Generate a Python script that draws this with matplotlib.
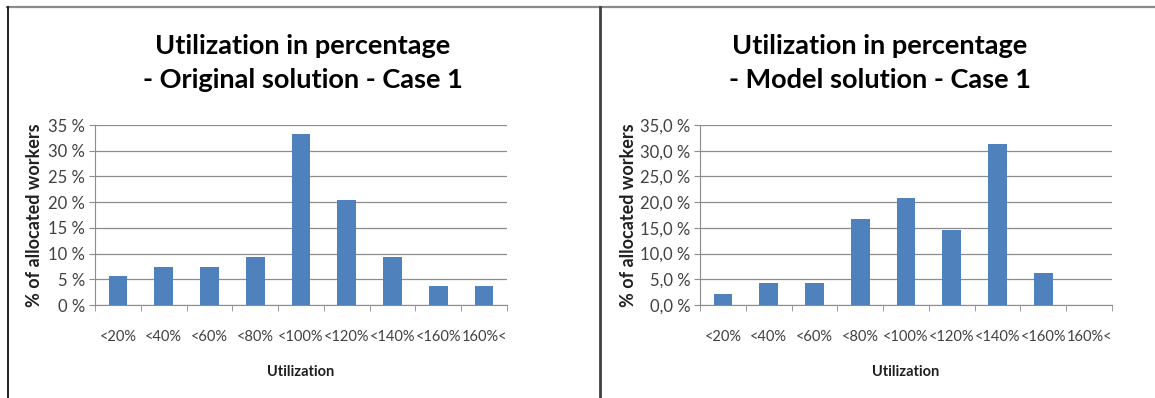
import matplotlib.pyplot as plt
from matplotlib.lines import Line2D
from matplotlib.ticker import FuncFormatter, FixedLocator

# categories and values (% of allocated workers)
categories = ['<20%', '<40%', '<60%', '<80%', '<100%', '<120%', '<140%', '<160%', '160%<']
original = [5.6, 7.4, 7.4, 9.3, 33.3, 20.4, 9.3, 3.7, 3.7]
model = [2.1, 4.2, 4.2, 16.7, 20.8, 14.6, 31.3, 6.3, 0.0]
y_ticks = [0, 5, 10, 15, 20, 25, 30, 35]

plt.rcParams['font.family'] = ['Lato', 'DejaVu Sans']

W, H = 1155, 398
fig = plt.figure(figsize=(W / 100, H / 100), dpi=100)
fig.patch.set_facecolor('white')

bar_color = '#4F81BD'
grid_color = '#8C8C8C'
text_gray = '#404040'


def draw_panel(ax, values, fmt, title, title_x, ylab_x):
    x = range(len(categories))
    ax.bar(x, values, width=0.41, color=bar_color, zorder=3)
    ax.set_xlim(-0.5, len(categories) - 0.5)
    ax.set_ylim(0, 35)
    ax.yaxis.set_major_locator(FixedLocator(y_ticks))
    ax.yaxis.set_major_formatter(FuncFormatter(fmt))
    ax.grid(axis='y', color=grid_color, linewidth=0.9, zorder=0)
    ax.set_xticks(list(x))
    ax.set_xticklabels(categories, fontsize=10.5, color=text_gray)
    ax.set_xticks([i - 0.5 for i in range(len(categories) + 1)], minor=True)
    ax.tick_params(axis='x', which='major', length=0, pad=18)
    ax.tick_params(axis='x', which='minor', length=4, color=grid_color)
    ax.tick_params(axis='y', length=4, color=grid_color, labelsize=12,
                   labelcolor=text_gray, pad=3)
    for s in ['top', 'right']:
        ax.spines[s].set_visible(False)
    ax.spines['left'].set_color(grid_color)
    ax.spines['bottom'].set_color(grid_color)
    ax.set_xlabel('Utilization', fontsize=10.5, fontweight='bold', labelpad=15,
                  color='#202020')
    ax.set_ylabel('% of allocated workers', fontsize=13, fontweight='bold',
                  color='#202020', va='center')
    ax.yaxis.set_label_coords(ylab_x, 0.5)
    fig.text(title_x, 1 - 63 / H, title, ha='center', va='center',
             fontsize=19.5, fontweight='bold', linespacing=1.45)


ax1 = fig.add_axes([95 / W, 93 / H, 412 / W, 180 / H])
ax2 = fig.add_axes([700 / W, 93 / H, 412 / W, 180 / H])

draw_panel(ax1, original, lambda v, p: f'{v:.0f} %',
           'Utilization in percentage\n- Original solution - Case 1', 303 / W,
           (35 - 95) / 412)
draw_panel(ax2, model, lambda v, p: f'{v:.1f} %'.replace('.', ','),
           'Utilization in percentage\n- Model solution - Case 1', 880 / W,
           (628 - 700) / 412)

# outer frame and divider
fig.add_artist(Line2D([7 / W, 1], [1 - 6.5 / H] * 2, color='#8A8A8A', linewidth=1.6))
fig.add_artist(Line2D([7.5 / W] * 2, [0, 1 - 6.5 / H], color='#202020', linewidth=1.4))
fig.add_artist(Line2D([600 / W] * 2, [0, 1 - 6.5 / H], color='#404040', linewidth=2.0))

fig.savefig('out.png', dpi=100)
